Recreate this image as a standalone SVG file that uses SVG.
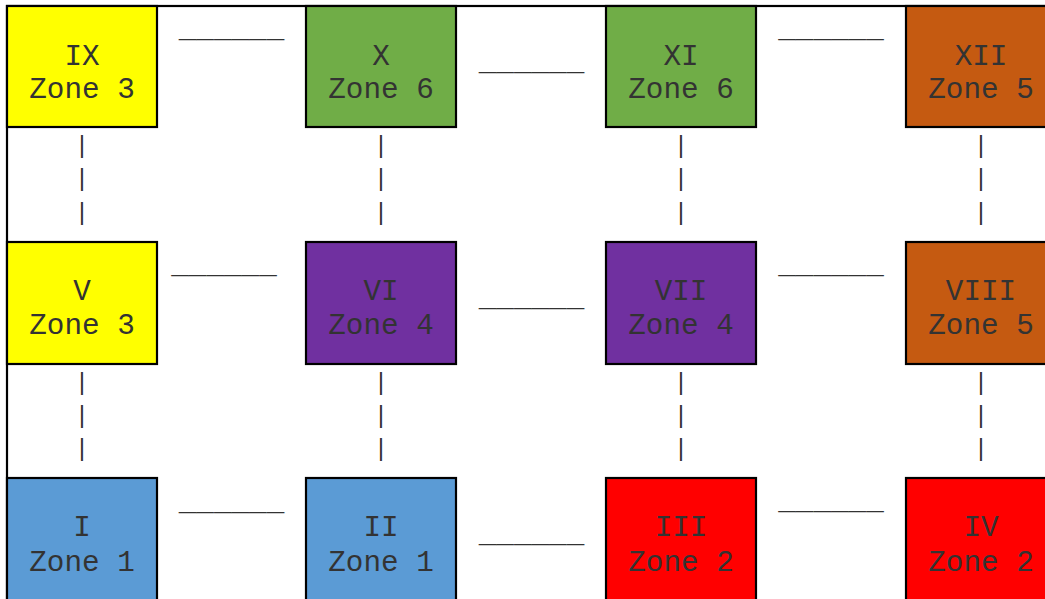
<svg xmlns="http://www.w3.org/2000/svg" width="1045" height="599" viewBox="0 0 1045 599">
<style>
text{font-family:"Liberation Mono","Courier New",monospace;font-size:29.3px;fill:#333;text-anchor:middle}
.p{font-size:24px}
.box{stroke:#000;stroke-width:2.2}
.c1{fill:#5B9BD5}.c2{fill:#FF0000}.c3{fill:#FFFF00}.c4{fill:#7030A0}.c5{fill:#C55A11}.c6{fill:#70AD47}
</style>
<rect x="0" y="0" width="1045" height="599" fill="#fff"/>
<rect x="7" y="6" width="1100" height="700" fill="none" stroke="#000" stroke-width="2.2"/>
<g id="connectors">
<text x="231.5" y="37">______</text>
<text x="531.5" y="70">______</text>
<text x="831" y="37">______</text>
<text x="224" y="273">______</text>
<text x="531.5" y="306">______</text>
<text x="831" y="273">______</text>
<text x="231.5" y="510">______</text>
<text x="531.5" y="542">______</text>
<text x="831" y="509">______</text>
<text class="p" x="82" y="153">|</text><text class="p" x="82" y="186">|</text><text class="p" x="82" y="220">|</text>
<text class="p" x="381" y="153">|</text><text class="p" x="381" y="186">|</text><text class="p" x="381" y="220">|</text>
<text class="p" x="681" y="153">|</text><text class="p" x="681" y="186">|</text><text class="p" x="681" y="220">|</text>
<text class="p" x="981" y="153">|</text><text class="p" x="981" y="186">|</text><text class="p" x="981" y="220">|</text>
<text class="p" x="82" y="390">|</text><text class="p" x="82" y="423">|</text><text class="p" x="82" y="456">|</text>
<text class="p" x="381" y="390">|</text><text class="p" x="381" y="423">|</text><text class="p" x="381" y="456">|</text>
<text class="p" x="681" y="390">|</text><text class="p" x="681" y="423">|</text><text class="p" x="681" y="456">|</text>
<text class="p" x="981" y="390">|</text><text class="p" x="981" y="423">|</text><text class="p" x="981" y="456">|</text>
</g>
<g id="n9"><rect class="box c3" x="7" y="6" width="150" height="121"/><text x="82" y="65">IX</text><text x="82" y="98">Zone 3</text></g>
<g id="n10"><rect class="box c6" x="306" y="6" width="150" height="121"/><text x="381" y="65">X</text><text x="381" y="98">Zone 6</text></g>
<g id="n11"><rect class="box c6" x="606" y="6" width="150" height="121"/><text x="681" y="65">XI</text><text x="681" y="98">Zone 6</text></g>
<g id="n12"><rect class="box c5" x="906" y="6" width="150" height="121"/><text x="981" y="65">XII</text><text x="981" y="98">Zone 5</text></g>
<g id="n5"><rect class="box c3" x="7" y="242" width="150" height="122"/><text x="82" y="300">V</text><text x="82" y="334">Zone 3</text></g>
<g id="n6"><rect class="box c4" x="306" y="242" width="150" height="122"/><text x="381" y="300">VI</text><text x="381" y="334">Zone 4</text></g>
<g id="n7"><rect class="box c4" x="606" y="242" width="150" height="122"/><text x="681" y="300">VII</text><text x="681" y="334">Zone 4</text></g>
<g id="n8"><rect class="box c5" x="906" y="242" width="150" height="122"/><text x="981" y="300">VIII</text><text x="981" y="334">Zone 5</text></g>
<g id="n1"><rect class="box c1" x="7" y="478" width="150" height="130"/><text x="82" y="536">I</text><text x="82" y="571">Zone 1</text></g>
<g id="n2"><rect class="box c1" x="306" y="478" width="150" height="130"/><text x="381" y="536">II</text><text x="381" y="571">Zone 1</text></g>
<g id="n3"><rect class="box c2" x="606" y="478" width="150" height="130"/><text x="681" y="536">III</text><text x="681" y="571">Zone 2</text></g>
<g id="n4"><rect class="box c2" x="906" y="478" width="150" height="130"/><text x="981" y="536">IV</text><text x="981" y="571">Zone 2</text></g>
</svg>
